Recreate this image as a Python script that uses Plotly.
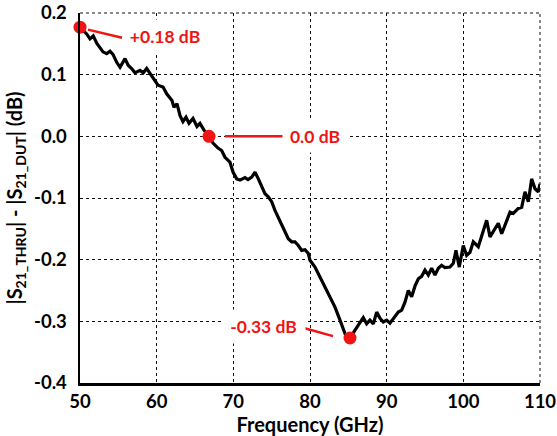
import plotly.graph_objects as go

# ---- data ----
freq_ghz = [50.0, 50.87, 51.30, 51.73, 52.18, 52.61, 53.00, 53.48, 53.91, 54.30,
            54.79, 55.22, 55.87, 56.30, 56.74, 57.17, 57.83, 58.26, 58.70, 59.13,
            59.78, 60.17, 60.83, 61.31, 62.00, 62.26, 62.65, 63.04, 63.43, 63.83,
            64.22, 64.74, 65.26, 65.65, 66.17, 66.83, 67.35, 68.00, 68.48, 68.91,
            69.56, 69.96, 70.44, 70.87, 71.52, 71.91, 72.40, 72.83, 73.26, 73.70,
            74.13, 74.56, 75.00, 75.43, 75.86, 76.31, 76.74, 77.17, 77.61, 78.04,
            78.47, 78.92, 79.35, 79.78, 80.00, 80.65, 81.30, 81.96, 82.61, 83.26,
            83.91, 84.34, 84.78, 85.22, 85.87, 86.30, 86.95, 87.39, 87.82, 88.26,
            88.70, 89.13, 89.56, 90.00, 90.43, 90.86, 91.52, 91.96, 92.39, 92.82,
            93.26, 93.69, 94.13, 94.56, 95.00, 95.43, 95.87, 96.30, 96.74, 97.17,
            97.61, 98.26, 98.69, 99.04, 99.47, 99.99, 100.43, 100.87, 101.30, 101.95,
            102.39, 103.04, 103.48, 104.13, 104.56, 105.00, 105.43, 106.09, 106.52, 107.17,
            107.61, 108.04, 108.48, 108.91, 109.35, 109.78, 110.0]
delta_db = [0.177, 0.166, 0.158, 0.163, 0.151, 0.143, 0.137, 0.134, 0.138, 0.133,
            0.120, 0.112, 0.126, 0.115, 0.110, 0.103, 0.107, 0.103, 0.110, 0.102,
            0.091, 0.083, 0.080, 0.069, 0.058, 0.047, 0.053, 0.034, 0.024, 0.031,
            0.021, 0.029, 0.016, 0.021, 0.010, 0.000, -0.011, -0.019, -0.023, -0.034,
            -0.042, -0.058, -0.069, -0.071, -0.067, -0.070, -0.066, -0.058, -0.069, -0.082,
            -0.093, -0.098, -0.106, -0.120, -0.131, -0.144, -0.155, -0.166, -0.171, -0.171,
            -0.177, -0.185, -0.184, -0.190, -0.201, -0.212, -0.228, -0.244, -0.260, -0.277,
            -0.298, -0.314, -0.327, -0.327, -0.313, -0.306, -0.294, -0.304, -0.298, -0.304,
            -0.285, -0.295, -0.301, -0.298, -0.303, -0.295, -0.285, -0.282, -0.269, -0.250,
            -0.260, -0.243, -0.231, -0.227, -0.217, -0.225, -0.214, -0.225, -0.214, -0.209,
            -0.213, -0.212, -0.206, -0.185, -0.212, -0.177, -0.193, -0.188, -0.171, -0.179,
            -0.160, -0.136, -0.163, -0.150, -0.141, -0.158, -0.144, -0.123, -0.125, -0.117,
            -0.115, -0.090, -0.106, -0.069, -0.085, -0.090, -0.077]

marker_freq = [50.0, 66.83, 85.22]
marker_db = [0.177, 0.0, -0.327]
marker_labels = ["+0.18 dB", "0.0 dB", "-0.33 dB"]

x_ticks = [50, 60, 70, 80, 90, 100, 110]
y_ticks = [0.2, 0.1, 0.0, -0.1, -0.2, -0.3, -0.4]
y_tick_text = ["0.2", "0.1", "0.0", "-0.1", "-0.2", "-0.3", "-0.4"]

# ---- styling ----
RED = "#f01414"
FONT = "Lato"
GRID = "#111111"

fig = go.Figure()
fig.add_trace(go.Scatter(x=freq_ghz, y=delta_db, mode="lines",
                         line=dict(color="black", width=3.2), hoverinfo="skip"))
fig.add_trace(go.Scatter(x=marker_freq, y=marker_db, mode="markers",
                         marker=dict(color=RED, size=13), cliponaxis=False,
                         hoverinfo="skip"))

# label boxes (position, box size)
label_pos = [(61.1, 0.162, 82, 32), (80.65, 0.0, 64, 32), (73.93, -0.309, 83, 33)]
for (lx, ly, w, h), txt in zip(label_pos, marker_labels):
    fig.add_annotation(x=lx, y=ly, xref="x", yref="y", text="<b>%s</b>" % txt,
                       showarrow=False, bgcolor="white", width=w, height=h, borderpad=0,
                       font=dict(family=FONT, size=17.5, color=RED))

# connector lines
connectors = [((51.04, 0.173), (55.48, 0.160)),
              ((68.9, 0.0), (76.48, 0.0)),
              ((78.96, -0.310), (83.0, -0.324))]
for (x0, y0), (x1, y1) in connectors:
    fig.add_shape(type="line", x0=x0, y0=y0, x1=x1, y1=y1, xref="x", yref="y",
                  line=dict(color=RED, width=2.5), layer="above")

grid = dict(showgrid=True, gridcolor=GRID, gridwidth=1, griddash="dot")
tick_font = dict(family=FONT, size=18.5, color="black")
title_font = dict(family=FONT, size=20, color="black")

fig.update_xaxes(range=[50, 110], tickvals=x_ticks,
                 ticktext=["<b>%d</b>" % v for v in x_ticks], ticks="", zeroline=False,
                 showline=True, linecolor="black", linewidth=2.5, automargin=False,
                 ticklabeloverflow="allow", tickfont=tick_font,
                 title=dict(text="<b>Frequency (GHz)</b>", standoff=0, font=title_font),
                 **grid)
fig.update_yaxes(range=[-0.4, 0.2], tickvals=y_ticks,
                 ticktext=["<b>%s</b>" % t for t in y_tick_text], ticks="",
                 zeroline=False, showline=True, linecolor="black", linewidth=2.5,
                 ticklabelstandoff=7, automargin=False,
                 ticklabeloverflow="allow", tickfont=tick_font,
                 title=dict(text="<b>|S<sub>21_THRU</sub>| - |S<sub>21_DUT</sub>| (dB)</b>",
                            standoff=6, font=title_font),
                 **grid)

# top and right dotted borders
fig.add_shape(type="line", xref="paper", yref="paper", x0=0, x1=1, y0=1, y1=1,
              line=dict(color=GRID, width=1, dash="dot"))
fig.add_shape(type="line", xref="paper", yref="paper", x0=1, x1=1, y0=0, y1=1,
              line=dict(color=GRID, width=1, dash="dot"))

fig.update_layout(width=557, height=436, showlegend=False,
                  margin=dict(l=80, r=17, t=13, b=53),
                  plot_bgcolor="white", paper_bgcolor="white")

# remove the page's default body margin so the figure fills the window exactly
fig.write_html("out.html",
               config={"displayModeBar": False, "staticPlot": True},
               post_script="document.body.style.margin='0';"
                           "document.body.style.overflow='hidden';")
